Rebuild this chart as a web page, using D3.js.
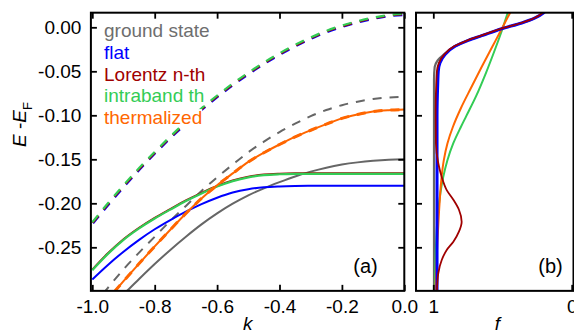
<!DOCTYPE html>
<html><head><meta charset="utf-8">
<script src="https://cdn.jsdelivr.net/npm/d3@7"></script>
<style>
body{margin:0;background:#fff}
svg{display:block}
text{font-family:"Liberation Sans",Arial,Helvetica,sans-serif}
</style>
</head><body>
<svg id="c" width="574" height="332"></svg>
<script>
// ---------- data: panel (a), E(k) ----------
const kGrid = [-1.0,-0.95,-0.9,-0.85,-0.8,-0.75,-0.7,-0.65,-0.6,-0.55,-0.5,-0.45,-0.4,-0.35,-0.3,-0.25,-0.2,-0.15,-0.1,-0.05,0.0];
const upperBand = [-0.2215,-0.2000,-0.1795,-0.1600,-0.1415,-0.1240,-0.1075,-0.0920,-0.0775,-0.0640,-0.0515,-0.0400,-0.0295,-0.0200,-0.0115,-0.0040,0.0020,0.0070,0.0110,0.0140,0.0155];
const groundUpper = [-0.318,-0.296,-0.275,-0.256,-0.238,-0.220,-0.203,-0.186,-0.1705,-0.156,-0.142,-0.130,-0.119,-0.1095,-0.101,-0.094,-0.0885,-0.0845,-0.0815,-0.0797,-0.079];
const groundLower = [-0.339,-0.321,-0.3035,-0.286,-0.269,-0.253,-0.238,-0.224,-0.2115,-0.2005,-0.191,-0.183,-0.176,-0.1695,-0.164,-0.1595,-0.156,-0.1535,-0.1517,-0.1505,-0.150];
const flatLower = [-0.2865,-0.2700,-0.2550,-0.2415,-0.2295,-0.2190,-0.2095,-0.2010,-0.1937,-0.1878,-0.1840,-0.1818,-0.1808,-0.1803,-0.1801,-0.1800,-0.1800,-0.1800,-0.1800,-0.1800,-0.1800];
const lorentzLower = [-0.2753,-0.2568,-0.2408,-0.2278,-0.2165,-0.2065,-0.1968,-0.1881,-0.1803,-0.1741,-0.1698,-0.1673,-0.1663,-0.1659,-0.1658,-0.1658,-0.1658,-0.1658,-0.1658,-0.1658,-0.1658];
const intraLower = [-0.2760,-0.2575,-0.2415,-0.2285,-0.2172,-0.2072,-0.1975,-0.1888,-0.1810,-0.1748,-0.1705,-0.1680,-0.1670,-0.1666,-0.1665,-0.1665,-0.1665,-0.1665,-0.1665,-0.1665,-0.1665];
const thermBand = [-0.3300,-0.3090,-0.2885,-0.2685,-0.2490,-0.2300,-0.2115,-0.1945,-0.1795,-0.1660,-0.1530,-0.1425,-0.1332,-0.1245,-0.1170,-0.1100,-0.1035,-0.0990,-0.0957,-0.0942,-0.0935];

// ---------- data: panel (b), f(E) ----------
const groundE = [0.02,0.0163,0.0106,0.0049,-0.0016,-0.0095,-0.0148,-0.0216,-0.031,-0.038,-0.045,-0.06,-0.30];
const groundF = [0.18,0.205,0.265,0.361,0.506,0.650,0.747,0.843,0.925,0.970,0.990,0.995,0.995];
const flatE = [0.02,0.0163,0.0106,0.0049,-0.0016,-0.0095,-0.0148,-0.0216,-0.031,-0.0406,-0.050,-0.065,-0.101,-0.30];
const flatF = [0.18,0.205,0.265,0.361,0.506,0.650,0.747,0.843,0.915,0.952,0.964,0.968,0.973,0.973];
const lorentzE = [0.02,0.0163,0.0106,0.0049,-0.0016,-0.0095,-0.0148,-0.0216,-0.031,-0.0406,-0.050,-0.065,-0.094,-0.132,-0.1545,-0.170,-0.185,-0.196,-0.2076,-0.2209,-0.232,-0.2436,-0.253,-0.2644,-0.2795,-0.30];
const lorentzF = [0.185,0.21,0.27,0.366,0.51,0.655,0.752,0.85,0.922,0.960,0.974,0.979,0.983,0.981,0.964,0.939,0.903,0.855,0.814,0.795,0.814,0.855,0.903,0.939,0.964,0.974];
const intraE = [0.02,0.0143,-0.0016,-0.0255,-0.052,-0.078,-0.101,-0.113,-0.132,-0.151,-0.170,-0.1886,-0.2076,-0.2266,-0.253,-0.2834,-0.30];
const intraF = [0.455,0.467,0.500,0.555,0.620,0.690,0.762,0.800,0.856,0.898,0.928,0.949,0.964,0.974,0.982,0.987,0.989];
const thermE = [0.02,0.0166,-0.0016,-0.0216,-0.0443,-0.069,-0.0917,-0.113,-0.132,-0.151,-0.170,-0.1886,-0.2076,-0.2455,-0.2834,-0.30];
const thermF = [0.434,0.445,0.505,0.572,0.648,0.728,0.800,0.858,0.898,0.924,0.940,0.950,0.958,0.971,0.981,0.985];

// ---------- ticks & labels ----------
const kTicks = [-1.0,-0.8,-0.6,-0.4,-0.2,0.0];
const kTickLabels = ["-1.0","-0.8","-0.6","-0.4","-0.2","0.0"];
const eTicks = [0.0,-0.05,-0.10,-0.15,-0.20,-0.25];
const eTickLabels = ["0.00","-0.05","-0.10","-0.15","-0.20","-0.25"];
const fTicks = [1,0];
const fTickLabels = ["1","0"];
const seriesNames = ["ground state","flat","Lorentz n-th","intraband th","thermalized"];
const seriesColors = ["#666666","#0000ff","#a00000","#33cc55","#ff6600"];
const legendColors = ["#6e6e6e","#0000ff","#a00000","#33cc55","#ff6600"];

// ---------- scales ----------
const svg = d3.select("#c");
const yDomain = [-0.2995, 0.0166];
const y = d3.scaleLinear().domain([-0.25, 0]).range([247.3, 27.3]);
const xA = d3.scaleLinear().domain([-1, 0]).range([92.3, 404.3]);
const xB = d3.scaleLinear().domain([1, 0]).range([433.3, 571.7]);
const xADomain = [-1.0045, 0];
const xBDomain = [1.125, -0.013];

const FS = 19;
const defs = svg.append("defs");
function clip(id, x0, x1) {
  defs.append("clipPath").attr("id", id).append("rect")
    .attr("x", x0).attr("y", y(yDomain[1]))
    .attr("width", x1 - x0).attr("height", y(yDomain[0]) - y(yDomain[1]));
}
clip("ca", xA(xADomain[0]), xA(xADomain[1]));
clip("cb", xB(xBDomain[0]), xB(xBDomain[1]));

// ---------- panel (a) curves ----------
const gA = svg.append("g").attr("clip-path", "url(#ca)");
const lineA = d3.line().x((d, i) => xA(kGrid[i])).y(d => y(d)).curve(d3.curveMonotoneX);
function drawA(data, color, w, dash, shift) {
  const p = gA.append("path").datum(data).attr("d", lineA)
    .attr("fill", "none").attr("stroke", color).attr("stroke-width", w)
    .attr("stroke-linecap", "butt");
  if (dash) p.attr("stroke-dasharray", dash);
  if (shift) p.attr("transform", `translate(${shift[0]},${shift[1]})`);
}
const DASH = "9,8";
drawA(groundUpper, seriesColors[0], 2, DASH);
drawA(groundLower, seriesColors[0], 2);
drawA(upperBand, seriesColors[1], 2.2, DASH, [0.8, 1.2]);
drawA(upperBand, seriesColors[2], 2.2, DASH, [0.4, 0.6]);
drawA(upperBand, seriesColors[3], 2.2, DASH);
drawA(flatLower, seriesColors[1], 2);
drawA(lorentzLower, seriesColors[2], 2);
drawA(intraLower, seriesColors[3], 2.2);
drawA(thermBand, seriesColors[4], 2);
drawA(thermBand, seriesColors[4], 3, DASH);

// ---------- panel (b) curves ----------
const gB = svg.append("g").attr("clip-path", "url(#cb)");
function drawB(E, F, color, w) {
  const pts = E.map((e, i) => [xB(F[i]), y(e)]);
  gB.append("path").datum(pts).attr("d", d3.line().curve(d3.curveMonotoneY))
    .attr("fill", "none").attr("stroke", color).attr("stroke-width", w);
}
drawB(groundE, groundF, seriesColors[0], 2.2);
drawB(intraE, intraF, seriesColors[3], 2);
drawB(thermE, thermF, seriesColors[4], 2);
drawB(flatE, flatF, seriesColors[1], 3);
drawB(lorentzE, lorentzF, seriesColors[2], 1.8);

// ---------- axes ----------
function styleAxis(g) {
  g.select(".domain").remove();
  g.selectAll(".tick line").attr("stroke", "#000").attr("stroke-width", 1.8);
  g.selectAll(".tick text").attr("font-size", FS).attr("fill", "#000")
    .attr("font-family", '"Liberation Sans",Arial,sans-serif');
}
const yB = y(yDomain[0]), yT = y(yDomain[1]);
// panel a
svg.append("g").attr("transform", `translate(0,${yB})`)
  .call(d3.axisBottom(xA).tickValues(kTicks).tickSize(-6).tickPadding(9)
    .tickFormat((d, i) => kTickLabels[i])).call(styleAxis);
svg.append("g").attr("transform", `translate(0,${yT})`)
  .call(d3.axisTop(xA).tickValues(kTicks).tickSize(-6).tickFormat("")).call(styleAxis);
svg.append("g").attr("transform", `translate(${xA(xADomain[0])},0)`)
  .call(d3.axisLeft(y).tickValues(eTicks).tickSize(-6).tickPadding(9.5)
    .tickFormat((d, i) => eTickLabels[i])).call(styleAxis);
svg.append("g").attr("transform", `translate(${xA(xADomain[1])},0)`)
  .call(d3.axisRight(y).tickValues(eTicks).tickSize(-6).tickFormat("")).call(styleAxis);
// panel b
svg.append("g").attr("transform", `translate(0,${yB})`)
  .call(d3.axisBottom(xB).tickValues(fTicks).tickSize(-6).tickPadding(9)
    .tickFormat((d, i) => fTickLabels[i])).call(styleAxis);
svg.append("g").attr("transform", `translate(0,${yT})`)
  .call(d3.axisTop(xB).tickValues(fTicks).tickSize(-6).tickFormat("")).call(styleAxis);
svg.append("g").attr("transform", `translate(${xB(xBDomain[0])},0)`)
  .call(d3.axisLeft(y).tickValues(eTicks).tickSize(-6).tickFormat("")).call(styleAxis);

// frames
function frame(x0, x1) {
  svg.append("rect").attr("x", x0).attr("y", yT).attr("width", x1 - x0).attr("height", yB - yT)
    .attr("fill", "none").attr("stroke", "#000").attr("stroke-width", 2);
}
frame(xA(xADomain[0]), xA(xADomain[1]));
frame(xB(xBDomain[0]), xB(xBDomain[1]));

// ---------- legend ----------
const leg = svg.append("g");
seriesNames.forEach((name, i) => {
  const t = leg.append("text").attr("x", 104).attr("y", 37.3 + i * 21.7)
    .attr("font-size", FS).attr("fill", legendColors[i]).text(name);
  const bb = t.node().getBBox();
  leg.insert("rect", "text").attr("x", bb.x).attr("y", bb.y + 2).attr("width", bb.width)
    .attr("height", bb.height - 3).attr("fill", "#fff");
});

// ---------- labels ----------
svg.append("text").attr("x", 353.3).attr("y", 273.3).attr("font-size", 20).text("(a)");
svg.append("text").attr("x", 538.3).attr("y", 273.3).attr("font-size", 20).text("(b)");
svg.append("text").attr("x", 247.7).attr("y", 329.5).attr("text-anchor", "middle")
  .attr("font-size", FS).attr("font-style", "italic").text("k");
svg.append("text").attr("x", 497.5).attr("y", 329.5).attr("text-anchor", "middle")
  .attr("font-size", FS).attr("font-style", "italic").text("f");
const yl = svg.append("text").attr("transform", "translate(26,147) rotate(-90)").attr("font-size", FS);
yl.append("tspan").attr("font-style", "italic").text("E");
yl.append("tspan").text(" -");
yl.append("tspan").attr("font-style", "italic").text("E");
yl.append("tspan").attr("font-size", 13).attr("dy", 5.5).text("F");
</script>
</body></html>
